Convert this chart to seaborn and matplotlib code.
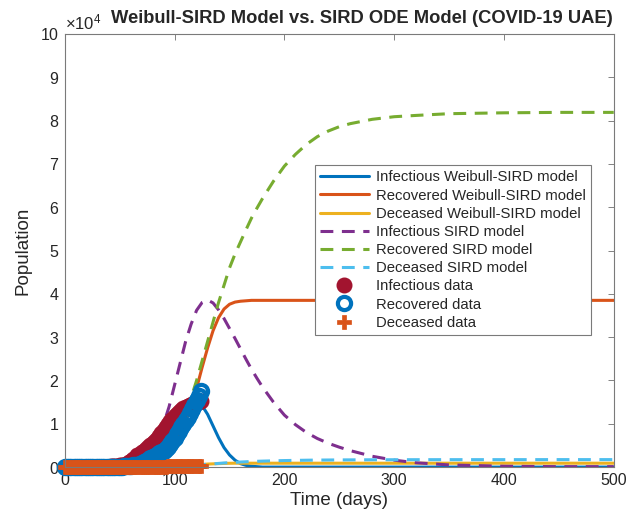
import numpy as np
import pandas as pd
import matplotlib
matplotlib.use("Agg")
import matplotlib.pyplot as plt
import seaborn as sns
from matplotlib.ticker import ScalarFormatter

# all populations below are in units of 10^4
model_days = [0, 20, 40, 50, 60, 70, 80,
              90, 95, 100, 105, 110, 115, 120, 125, 130, 135, 140, 145, 150,
              155, 160, 165, 170, 175, 180,
              190, 200, 210, 220, 230, 240, 250, 260,
              280, 300, 320, 350, 400, 450, 500]

weibull_infectious = [0, 0, 0.01, 0.02, 0.05, 0.12, 0.27,
                      0.52, 0.68, 0.86, 1.05, 1.23, 1.38, 1.47, 1.42, 1.22, 0.95, 0.68, 0.45, 0.28,
                      0.16, 0.08, 0.04, 0.02, 0.01, 0,
                      0, 0, 0, 0, 0, 0, 0, 0,
                      0, 0, 0, 0, 0, 0, 0]
weibull_recovered = [0, 0, 0, 0.01, 0.02, 0.05, 0.12,
                     0.28, 0.40, 0.56, 0.78, 1.05, 1.40, 1.82, 2.30, 2.75, 3.15, 3.45, 3.65, 3.76,
                     3.81, 3.83, 3.84, 3.85, 3.85, 3.85,
                     3.85, 3.85, 3.85, 3.85, 3.85, 3.85, 3.85, 3.85,
                     3.85, 3.85, 3.85, 3.85, 3.85, 3.85, 3.85]
weibull_deceased = [0, 0, 0, 0, 0, 0, 0.01,
                    0.01, 0.01, 0.02, 0.02, 0.03, 0.04, 0.05, 0.06, 0.07, 0.075, 0.08, 0.085, 0.088,
                    0.09, 0.09, 0.09, 0.09, 0.09, 0.09,
                    0.09, 0.09, 0.09, 0.09, 0.09, 0.09, 0.09, 0.09,
                    0.09, 0.09, 0.09, 0.09, 0.09, 0.09, 0.09]
sird_infectious = [0, 0, 0.01, 0.03, 0.08, 0.20, 0.45,
                   1.00, 1.40, 1.90, 2.40, 2.90, 3.30, 3.62, 3.80, 3.86, 3.79, 3.63, 3.43, 3.20,
                   2.97, 2.73, 2.49, 2.26, 2.05, 1.85,
                   1.50, 1.20, 0.98, 0.80, 0.66, 0.55, 0.46, 0.38,
                   0.25, 0.16, 0.10, 0.05, 0.02, 0.01, 0.01]
sird_recovered = [0, 0, 0, 0.01, 0.02, 0.06, 0.15,
                  0.35, 0.50, 0.70, 0.95, 1.25, 1.60, 2.00, 2.45, 2.90, 3.35, 3.80, 4.20, 4.60,
                  4.92, 5.20, 5.48, 5.75, 5.98, 6.20,
                  6.60, 6.95, 7.22, 7.45, 7.63, 7.76, 7.86, 7.93,
                  8.03, 8.09, 8.12, 8.16, 8.18, 8.19, 8.19]
sird_deceased = [0, 0, 0, 0, 0, 0, 0.005,
                 0.01, 0.012, 0.016, 0.02, 0.027, 0.035, 0.045, 0.055, 0.065, 0.075, 0.085, 0.095, 0.103,
                 0.11, 0.117, 0.123, 0.129, 0.134, 0.138,
                 0.145, 0.151, 0.155, 0.159, 0.162, 0.164, 0.166, 0.167,
                 0.169, 0.17, 0.171, 0.172, 0.172, 0.173, 0.173]

# observed data, every second day
data_days = list(range(0, 125, 2))
infectious_data = [0, 0, 0, 0, 0, 0, 0, 0, 0, 0,
                   0, 0, 0, 0, 0, 0, 0.01, 0.01, 0.01, 0.01,
                   0.01, 0.02, 0.02, 0.02, 0.03,
                   0.04, 0.05, 0.06, 0.08, 0.11, 0.14, 0.18, 0.22, 0.27, 0.31,
                   0.35, 0.38, 0.42, 0.46, 0.50, 0.55, 0.60, 0.66, 0.72, 0.78,
                   0.85, 0.92, 0.99, 1.06, 1.12, 1.18, 1.23, 1.28, 1.32, 1.36,
                   1.39, 1.42, 1.44, 1.46, 1.48, 1.50, 1.51, 1.53]
recovered_data = [0, 0, 0, 0, 0, 0, 0, 0, 0, 0,
                  0, 0, 0, 0, 0, 0, 0, 0, 0, 0,
                  0, 0, 0.01, 0.01, 0.01,
                  0.01, 0.01, 0.02, 0.02, 0.02, 0.03, 0.04, 0.05, 0.06, 0.08,
                  0.10, 0.12, 0.14, 0.17, 0.20, 0.23, 0.26, 0.29, 0.32, 0.35,
                  0.38, 0.42, 0.47, 0.53, 0.60, 0.68, 0.76, 0.84, 0.92, 1.00,
                  1.08, 1.16, 1.25, 1.34, 1.44, 1.54, 1.65, 1.76]
deceased_data = [0, 0, 0, 0, 0, 0, 0, 0, 0, 0,
                 0, 0, 0, 0, 0, 0, 0, 0, 0, 0,
                 0, 0, 0, 0, 0,
                 0.001, 0.001, 0.001, 0.002, 0.002, 0.003, 0.003, 0.004, 0.004, 0.005,
                 0.005, 0.006, 0.007, 0.007, 0.008, 0.009, 0.009, 0.010, 0.011, 0.012,
                 0.012, 0.013, 0.014, 0.015, 0.015, 0.016, 0.017, 0.017, 0.018, 0.019,
                 0.019, 0.020, 0.021, 0.021, 0.022, 0.023, 0.023, 0.024]

models = pd.DataFrame({
    "day": model_days,
    "wI": weibull_infectious, "wR": weibull_recovered, "wD": weibull_deceased,
    "sI": sird_infectious, "sR": sird_recovered, "sD": sird_deceased,
})
obs = pd.DataFrame({
    "day": data_days,
    "I": infectious_data, "R": recovered_data, "D": deceased_data,
})
for c in ["wI", "wR", "wD", "sI", "sR", "sD"]:
    models[c] = models[c] * 1e4
for c in ["I", "R", "D"]:
    obs[c] = obs[c] * 1e4

sns.set_theme(style="white")
plt.rcParams["font.family"] = ["Liberation Sans", "DejaVu Sans"]
plt.rcParams["mathtext.fontset"] = "custom"
plt.rcParams["mathtext.rm"] = "Liberation Sans"

fig = plt.figure(figsize=(6.36, 5.19), dpi=100)
ax = fig.add_axes([0.102, 0.100, 0.863, 0.8345])

lw = 2.2
dash = (0, (4.2, 2.8))
sns.lineplot(data=models, x="day", y="wI", ax=ax, color="#0072BD", linewidth=lw,
             label="Infectious Weibull-SIRD model")
sns.lineplot(data=models, x="day", y="wR", ax=ax, color="#D95319", linewidth=lw,
             label="Recovered Weibull-SIRD model")
sns.lineplot(data=models, x="day", y="wD", ax=ax, color="#EDB120", linewidth=lw,
             label="Deceased Weibull-SIRD model")
sns.lineplot(data=models, x="day", y="sI", ax=ax, color="#7E2F8E", linewidth=lw,
             linestyle=dash, label="Infectious SIRD model")
sns.lineplot(data=models, x="day", y="sR", ax=ax, color="#77AC30", linewidth=lw,
             linestyle=dash, label="Recovered SIRD model")
sns.lineplot(data=models, x="day", y="sD", ax=ax, color="#4DBEEE", linewidth=lw,
             linestyle=dash, label="Deceased SIRD model")

sns.lineplot(data=obs, x="day", y="I", ax=ax, linestyle="none", marker="o",
             markersize=10, markerfacecolor="#A2142F", markeredgecolor="#A2142F",
             markeredgewidth=1.5, color="#A2142F", label="Infectious data",
             clip_on=False)
sns.lineplot(data=obs, x="day", y="R", ax=ax, linestyle="none", marker="o",
             markersize=9.5, markerfacecolor="none", markeredgecolor="#0072BD",
             markeredgewidth=3, color="#0072BD", label="Recovered data",
             clip_on=False)
sns.lineplot(data=obs, x="day", y="D", ax=ax, linestyle="none", marker="P",
             markersize=10, markerfacecolor="#D95319", markeredgecolor="#D95319",
             markeredgewidth=0.5, color="#D95319", label="Deceased data",
             clip_on=False)

ax.set_xlim(0, 500)
ax.set_ylim(0, 1e5)
ax.set_xticks([0, 100, 200, 300, 400, 500])
ax.set_yticks(np.arange(0, 1.01e5, 1e4))
fmt = ScalarFormatter(useMathText=True)
ax.yaxis.set_major_formatter(fmt)
ax.ticklabel_format(axis="y", style="sci", scilimits=(4, 4))
ax.yaxis.get_offset_text().set_fontsize(12)
ax.yaxis.get_offset_text().set_color("#262626")

ax.tick_params(direction="in", top=True, right=True, length=4, width=0.6,
               color="#6e6e6e", labelcolor="#262626", labelsize=11.5, pad=4)
for s in ax.spines.values():
    s.set_color("#7a7a7a")
    s.set_linewidth(0.8)

ax.set_xlabel("Time (days)", fontsize=13.5, color="#262626", labelpad=3)
ax.set_ylabel("Population", fontsize=13.5, color="#262626", labelpad=6)
ax.set_title("Weibull-SIRD Model vs. SIRD ODE Model (COVID-19 UAE)",
             fontsize=13.2, fontweight="bold", x=0.541, y=1.0, pad=8)

leg = ax.legend(loc="upper left", bbox_to_anchor=(0.455, 0.697), fontsize=10.7,
                frameon=True, fancybox=False, framealpha=1, edgecolor="#7a7a7a",
                handlelength=3.3, handletextpad=0.45, labelspacing=0.28,
                borderpad=0.35, borderaxespad=0)
leg.get_frame().set_linewidth(0.8)
for t in leg.get_texts():
    t.set_color("#262626")

fig.savefig("out.png", dpi=100)
